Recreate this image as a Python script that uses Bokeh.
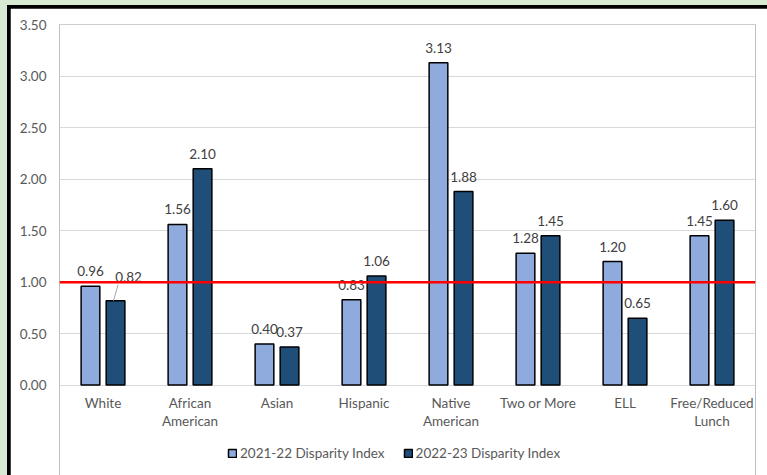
from bokeh.plotting import figure
from bokeh.models import (ColumnDataSource, Range1d, FixedTicker, NumeralTickFormatter,
                          Legend, LegendItem, Span)
from bokeh.layouts import column
from bokeh.core.properties import value
from bokeh.embed import file_html
from bokeh.resources import INLINE

# --- data -------------------------------------------------------------
categories = ["White", "African American", "Asian", "Hispanic",
              "Native American", "Two or More", "ELL", "Free/Reduced Lunch"]
tick_labels = ["White", "African\nAmerican", "Asian", "Hispanic",
               "Native\nAmerican", "Two or More", "ELL", "Free/Reduced\nLunch"]
index_2021_22 = [0.96, 1.56, 0.40, 0.83, 3.13, 1.28, 1.20, 1.45]
index_2022_23 = [0.82, 2.10, 0.37, 1.06, 1.88, 1.45, 0.65, 1.60]
series_names = ["2021-22 Disparity Index", "2022-23 Disparity Index"]
parity_level = 1.0
y_ticks = [0.0, 0.5, 1.0, 1.5, 2.0, 2.5, 3.0, 3.5]

# --- styling ----------------------------------------------------------
FONT = "Lato"
FS = "13.5px"
LIGHT = "#8faadc"
DARK = "#1f4e79"
AXIS_TEXT = "#595959"
LABEL_TEXT = "#404040"

n = len(categories)
centers = [i + 0.5 for i in range(n)]
offset = 0.144
bar_w = 0.215

# The frame runs down to the bottom of the canvas; the category axis is
# pinned at y=0 so the space beneath it can hold the tick labels and legend.
px_per_unit = 360.0 / 3.5
frame_h = 467 - 16.5
y_top = 3.502
y_bottom = y_top - frame_h / px_per_unit

p = figure(width=757, height=467,
           x_range=Range1d(0, n), y_range=Range1d(y_bottom, y_top),
           output_backend="svg", toolbar_location=None,
           min_border_left=49, min_border_right=12,
           min_border_top=16, min_border_bottom=0,
           background_fill_color="white", border_fill_color="white",
           outline_line_color=None)

# axes
p.xaxis.fixed_location = 0
p.xaxis.ticker = FixedTicker(ticks=centers)
p.xaxis.major_label_overrides = dict(zip(centers, tick_labels))
p.yaxis.ticker = FixedTicker(ticks=y_ticks)
p.yaxis.formatter = NumeralTickFormatter(format="0.00")
for ax in (p.xaxis, p.yaxis):
    ax.axis_line_color = None
    ax.major_tick_line_color = None
    ax.minor_tick_line_color = None
    ax.major_tick_out = 0
    ax.major_tick_in = 0
    ax.major_label_text_font = FONT
    ax.major_label_text_font_size = FS
    ax.major_label_text_color = AXIS_TEXT
p.xaxis.major_label_standoff = 10
p.xaxis.major_label_text_line_height = 1.12
p.yaxis.major_label_standoff = 13

p.xgrid.visible = False
p.ygrid.grid_line_color = "#d9d9d9"
p.ygrid.grid_line_width = 1

# bars
x_a = [c - offset for c in centers]
x_b = [c + offset for c in centers]
r1 = p.vbar(x=x_a, top=index_2021_22, width=bar_w, fill_color=LIGHT,
            line_color="black", line_width=1.5)
r2 = p.vbar(x=x_b, top=index_2022_23, width=bar_w, fill_color=DARK,
            line_color="black", line_width=1.5)

# parity reference line
p.add_layout(Span(location=parity_level, dimension="width",
                  line_color="#ff0000", line_width=2.5))

# value labels; the White 2022-23 label is pulled aside with a leader line
xs = x_a + x_b
ys = index_2021_22 + index_2022_23
texts = [f"{v:.2f}" for v in ys]
x_off = [0] * len(xs)
y_off = [-15] * len(xs)
moved = n  # first entry of the 2022-23 series
x_off[moved] = 13
y_off[moved] = -24
labels = ColumnDataSource(dict(x=xs, y=ys, text=texts, xo=x_off, yo=y_off))
p.text(x="x", y="y", text="text", x_offset="xo", y_offset="yo", source=labels,
       text_font=value(FONT), text_font_size=FS, text_color=LABEL_TEXT,
       text_align="center", text_baseline="alphabetic")

px_x = 1 / 87.0
px_y = 1 / px_per_unit
p.segment(x0=[x_b[0] - 2 * px_x], y0=[index_2022_23[0]],
          x1=[x_b[0] + 2.5 * px_x], y1=[index_2022_23[0] + 16 * px_y],
          line_color="#a6a6a6", line_width=1)

# legend under the category labels
legend = Legend(items=[LegendItem(label=series_names[0], renderers=[r1]),
                       LegendItem(label=series_names[1], renderers=[r2])],
                orientation="horizontal", location=(168, 14),
                glyph_width=10, glyph_height=10, label_standoff=3, spacing=18,
                padding=0, margin=0, border_line_color=None,
                background_fill_alpha=0,
                label_text_font=FONT, label_text_font_size=FS,
                label_text_color=AXIS_TEXT)
p.add_layout(legend)

inner = column(p, styles={"background-color": "#000000", "padding": "3px 0 0 3px"})
outer = column(inner, styles={"background-color": "#d9ead3", "padding": "5px 0 0 7px"})

open("out.html", "w").write(file_html(outer, INLINE))
